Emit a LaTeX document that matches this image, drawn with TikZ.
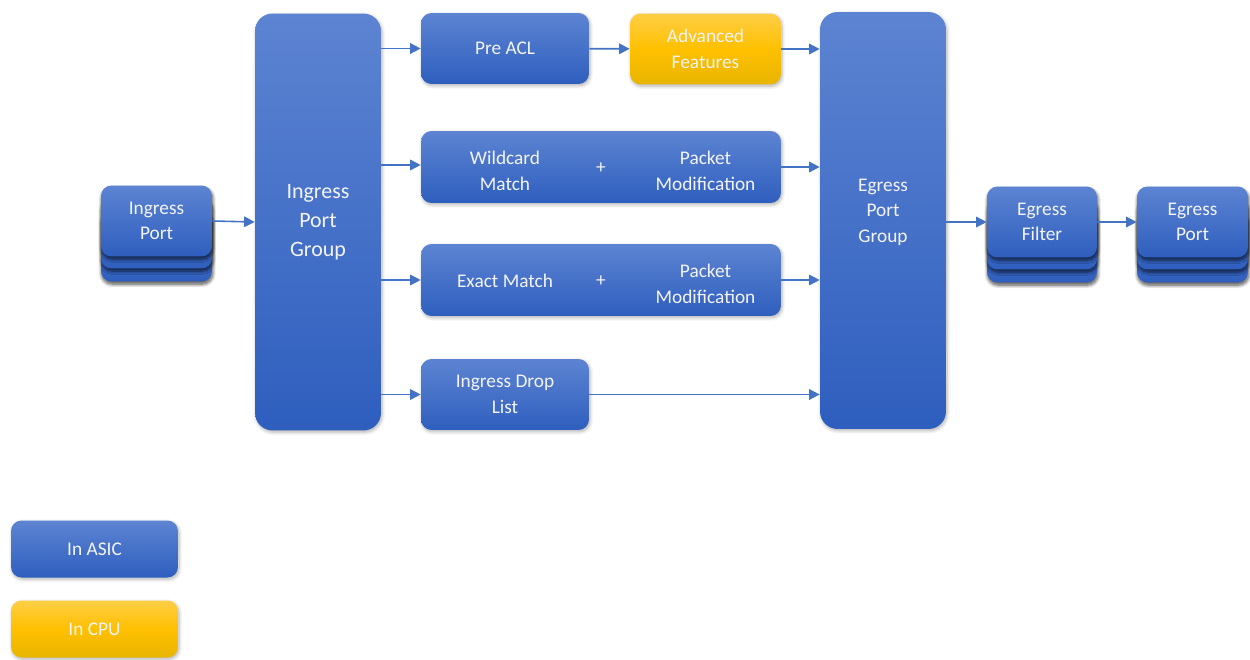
\documentclass[tikz,border=0pt]{standalone}
\usepackage{fontspec}
\setmainfont{Carlito}
\usetikzlibrary{shadows.blur,arrows.meta}
\definecolor{asictop}{RGB}{93,132,210}
\definecolor{asicbot}{RGB}{46,94,190}
\definecolor{cputop}{RGB}{255,206,70}
\definecolor{cpumid}{RGB}{255,192,0}
\definecolor{cpubot}{RGB}{232,181,0}
\definecolor{flow}{RGB}{68,114,196}
\definecolor{label}{RGB}{244,244,248}
\begin{document}
\begin{tikzpicture}[x=0.02cm,y=-0.02cm,
  box/.style={rounded corners=6pt,text=label,font=\fontsize{11}{14.5}\selectfont,align=center,
    blur shadow={shadow blur steps=6,shadow xshift=0.6pt,shadow yshift=-1pt,shadow opacity=30}},
  asic/.style={box,top color=asictop,bottom color=asicbot},
  cpu/.style={box,top color=cputop,bottom color=cpubot,middle color=cpumid},
  group/.style={asic,rounded corners=10pt,minimum width=2.52cm,minimum height=8.34cm,
    font=\fontsize{12.5}{16.5}\selectfont},
  card/.style={asic,minimum width=2.22cm,minimum height=1.42cm,
    blur shadow={shadow blur steps=6,shadow xshift=0.4pt,shadow yshift=-1.5pt,shadow opacity=40}},
  inner/.style={text=label,font=\fontsize{11}{14.5}\selectfont,align=center},
  flow/.style={draw=flow,line width=0.9pt,-{Triangle[length=6pt,width=6pt]}}]
\useasboundingbox (0,0) rectangle (1250,659);
% stacked cards
\node[card] (ipc) at (156.5,246) {};
\node[card] (ipb) at (156.5,233) {};
\node[card] (ip) at (156.5,221) {Ingress\\Port};
\node[card,minimum width=2.2cm] (efc) at (1042,247) {};
\node[card,minimum width=2.2cm] (efb) at (1042,234) {};
\node[card,minimum width=2.2cm] (ef) at (1042,222) {Egress\\Filter};
\node[card] (epc) at (1192.5,247) {};
\node[card] (epb) at (1192.5,234) {};
\node[card] (ep) at (1192.5,222) {Egress\\Port};
% groups
\node[group] (ipg) at (318,222) {Ingress\\Port\\Group};
\node[group] (epg) at (883,220.5) {};
\node[inner] (epgt) at (883,212) {Egress\\Port\\Group};
% stages
\node[asic,minimum width=3.36cm,minimum height=1.42cm] (pre) at (505,48.5) {Pre ACL};
\node[cpu,minimum width=3.02cm,minimum height=1.42cm] (adv) at (705.5,49) {Advanced\\Features};
\node[asic,minimum width=7.2cm,minimum height=1.44cm] (wc) at (601,167) {};
\node[inner] (wcl) at (505,171) {Wildcard\\Match};
\node[inner] (wcp) at (601,168) {+};
\node[inner] (wcr) at (705.5,171) {Packet\\Modification};
\node[asic,minimum width=7.2cm,minimum height=1.44cm] (em) at (601,280) {};
\node[inner] (eml) at (505,281) {Exact Match};
\node[inner] (emp) at (601,281) {+};
\node[inner] (emr) at (705.5,284) {Packet\\Modification};
\node[asic,minimum width=3.36cm,minimum height=1.42cm] (drop) at (505,394.5) {Ingress Drop\\List};
% legend
\node[asic,minimum width=3.34cm,minimum height=1.14cm] (asic) at (94.5,549) {In ASIC};
\node[cpu,minimum width=3.34cm,minimum height=1.14cm] (cpu) at (94.5,629) {In CPU};
% arrows
\draw[flow] (ip.east) -- (ipg.west |- 0,222);
\draw[flow] (ipg.east |- pre) -- (pre);
\draw[flow] (pre) -- (adv);
\draw[flow] (adv) -- (adv -| epg.west);
\draw[flow] (ipg.east |- 0,165) -- (wc.west |- 0,165);
\draw[flow] (wc) -- (wc -| epg.west);
\draw[flow] (ipg.east |- em) -- (em);
\draw[flow] (em) -- (em -| epg.west);
\draw[flow] (ipg.east |- drop) -- (drop);
\draw[flow] (drop) -- (drop -| epg.west);
\draw[flow] (epg.east |- ef) -- (ef);
\draw[flow] (ef) -- (ep);
\end{tikzpicture}
\end{document}
